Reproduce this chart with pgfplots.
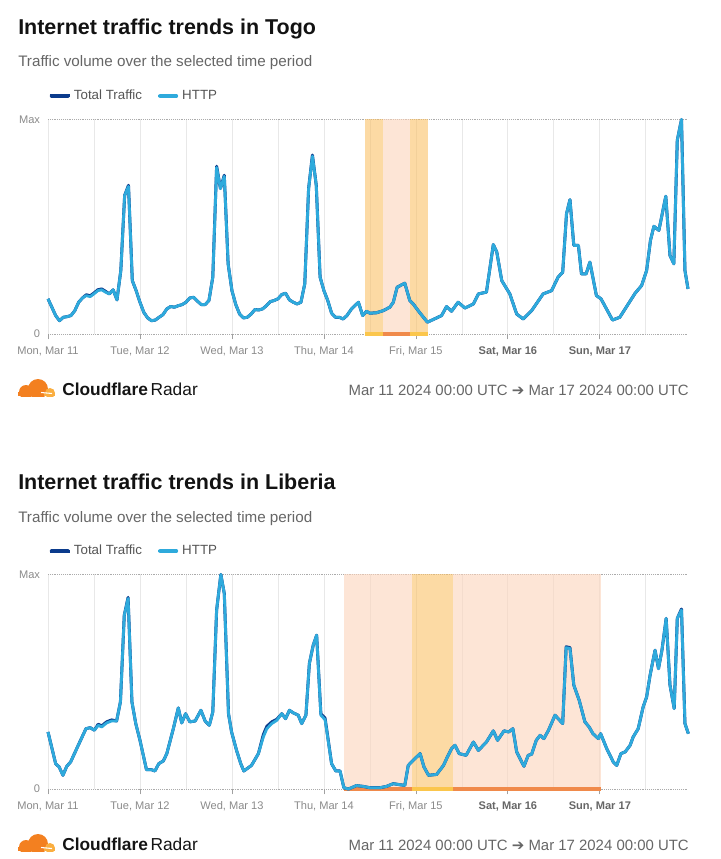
\documentclass[border=0pt]{standalone}
\usepackage{fontspec}
\setmainfont{Liberation Sans}
\newfontfamily\dejavu{DejaVu Sans}
\usepackage{pgfplots}
\usepackage{pgfplotstable}
\pgfplotsset{compat=1.18}

\definecolor{totalc}{HTML}{0B3B8C}
\definecolor{httpc}{HTML}{2EAADC}
\definecolor{gridc}{HTML}{E8E8E8}
\definecolor{dotc}{HTML}{ABABAB}
\definecolor{tickc}{HTML}{A0A0A0}
\definecolor{labelc}{HTML}{8A8A8A}
\definecolor{boldc}{HTML}{666666}
\definecolor{subc}{HTML}{666666}
\definecolor{legc}{HTML}{555555}
% band fills are drawn at 60% opacity so the grid shows through
\definecolor{bandY}{HTML}{FAC167}
\definecolor{bandP}{HTML}{FCD4BB}
\definecolor{stripY}{HTML}{FBC64C}
\definecolor{stripO}{HTML}{F08A4B}
\definecolor{cfo}{HTML}{F38020}
\definecolor{cfl}{HTML}{FAAE40}

% Togo: hour since Mon Mar 11 00:00, total, http (0 = min, 100 = max)
\pgfplotstableread{
h t v
0 16.4 16.4
1 12.5 12.5
2 8.6 8.6
3 6.2 6.2
4 7.8 7.8
5 8.1 8.1
6 8.6 8.6
7 10.9 10.9
8 14.8 14.8
9 16.8 16.8
10 18.3 17.9
11 17.8 17.4
12 19.1 18.7
13 20.6 20.2
14 21.0 20.6
15 19.9 19.5
16 18.7 18.7
17 20.6 20.6
18 15.9 15.9
19 29.6 29.6
20 64.6 64.6
21 69.3 68.8
22 24.9 24.9
23 20.2 20.2
24 14.8 14.8
25 10.1 10.1
26 7.5 7.5
27 6.2 6.2
28 6.5 6.5
29 7.8 7.8
30 9.0 9.0
31 11.7 11.7
32 12.8 12.8
33 12.5 12.5
34 13.2 13.2
35 13.7 13.7
36 14.8 14.8
37 16.8 16.8
38 17.1 17.1
39 15.3 15.3
40 13.7 13.7
41 13.7 13.7
42 15.6 15.6
43 26.5 26.5
44 78.2 77.6
45 67.8 67.8
46 74.0 73.5
47 32.7 32.7
48 20.2 20.2
49 13.7 13.7
50 9.3 9.3
51 7.5 7.5
52 7.8 7.8
53 9.3 9.3
54 11.4 11.4
55 11.2 11.2
56 11.7 11.7
57 13.2 13.2
58 15.1 15.1
59 15.6 15.6
60 16.4 16.4
61 18.4 18.4
62 19.0 19.0
63 15.9 15.9
64 14.8 14.8
65 14.0 14.0
66 14.8 14.8
67 23.4 23.4
68 67.8 67.8
69 83.4 82.9
70 69.3 69.3
71 26.5 26.5
72 20.2 20.2
73 15.6 15.6
74 9.7 9.7
75 7.8 7.8
76 7.8 7.8
77 7.0 7.0
78 8.6 8.6
79.2 11.7 11.7
81.0 14.8 14.8
82.1 8.6 8.6
83.1 10.6 10.6
84.0 9.7 9.7
85.7 9.9 9.9
87.5 10.9 10.9
89.2 12.5 12.5
90.1 14.8 14.8
91.1 21.8 21.8
93.1 23.7 23.7
94.4 15.6 15.6
95.3 14.0 14.0
97.1 9.7 9.7
99.0 5.5 5.5
101.4 7.5 7.5
102.7 8.6 8.6
104.0 12.8 12.8
105.3 10.6 10.6
107.0 14.8 14.8
108.8 12.1 12.1
111.0 14.0 14.0
112.3 18.7 18.7
114.4 19.5 19.5
116.2 41.7 41.7
117.1 38.2 38.2
118.4 24.9 24.9
120.5 18.7 18.7
122.3 9.3 9.3
124.0 7.0 7.0
126.2 10.9 10.9
129.2 18.7 18.7
131.4 20.2 20.2
133.1 26.5 26.5
134.3 28.8 28.8
135.3 56.1 56.1
136.2 62.6 62.6
137.2 41.3 41.3
138.4 41.3 41.3
139.2 28.0 28.0
140.4 28.0 28.0
141.4 33.5 33.5
143.1 17.9 17.9
144.3 16.4 16.4
147.3 6.5 6.5
149.2 7.8 7.8
153.2 19.0 19.0
154.9 22.6 22.6
156.2 29.6 29.6
157.2 43.6 43.6
158.1 50.2 50.2
159.4 48.3 48.3
161.2 64.2 64.2
162.3 36.6 36.6
163.3 32.7 32.7
164.2 90.3 90.3
165.3 100 100
166.2 29.6 29.6
167.0 21.0 21.0
}\togo

% Liberia
\pgfplotstableread{
h t v
0 26.6 26.6
2 11.8 11.8
2.9 10.3 10.3
3.9 6.4 6.4
4.9 10.6 10.6
5.9 12.6 12.6
7.9 20.4 20.4
9.9 28.1 28.1
11 28.6 28.6
12.1 27.4 27.4
13.1 30.2 29.7
14 29.4 28.9
15.3 31.3 30.8
16.6 32.2 31.7
17.9 31.7 31.7
18.9 40.6 40.6
19.9 81.0 81.0
20.9 89.3 88.8
21.9 40.6 40.6
22.9 30.5 30.5
24 22.7 22.7
25.7 9.0 9.0
27 9.0 9.0
27.9 8.4 8.4
28.9 11.8 11.8
30.1 13.1 13.1
31 16.5 16.5
32.7 28.1 28.1
34 37.8 37.8
34.9 30.8 30.8
35.9 35.1 35.1
37 31.3 31.3
38.4 31.7 31.7
39.9 36.7 36.7
41 31.7 31.7
42.1 29.7 29.7
43 35.9 35.9
44 83.4 83.4
45.1 100 100
46 91.1 91.1
47.1 35.1 35.1
47.9 26.6 26.6
49.2 18.0 18.0
50.3 11.8 11.8
51.1 8.4 8.4
53.1 11.0 11.0
54.9 16.5 16.5
56.2 25.4 24.3
57.1 29.2 28.1
58.4 31.3 30.5
59.7 32.5 32.0
61 35.1 35.1
62 32.8 32.8
63 36.7 36.7
64 35.5 35.5
65.3 34.4 34.4
66.2 30.5 30.5
67.3 34.4 34.4
68.2 58.5 58.5
69.2 67.0 67.0
70.1 71.7 71.7
71.2 35.1 34.4
72.3 33.0 32.3
74 11.8 11.8
75.1 8.4 8.4
76.2 8.4 8.4
77.2 0.6 0.6
78.4 0 0
80.5 1.6 1.6
82.3 1.2 1.2
84.0 0.6 0.6
86.6 0.6 0.6
88.3 1.2 1.2
90.1 2.5 2.5
91.8 2.0 2.0
93.1 1.7 1.7
94.0 11.0 11.0
95.3 13.4 13.4
97.1 16.5 16.5
98.1 10.3 10.3
99.3 6.4 6.4
101.4 6.8 6.8
103.2 11.0 11.0
104.2 14.9 14.9
105.3 18.8 18.8
106.2 20.4 20.4
107.3 16.5 16.5
109.1 15.7 15.7
111.0 21.9 21.9
112.3 18.0 18.0
114.4 21.9 21.9
116.2 27.1 27.1
117.3 22.7 22.7
119.0 27.1 27.1
120.2 26.6 26.6
121.3 28.1 28.1
122.3 17.3 17.3
123.6 12.6 12.6
124.2 10.6 10.6
125.3 15.7 15.7
126.2 16.2 16.2
127.4 22.7 22.7
128.4 25.0 25.0
129.4 23.5 23.5
130.6 27.4 27.4
132.3 34.4 34.4
134.3 30.5 30.5
135.2 66.3 65.9
136.2 65.9 65.5
137.2 48.4 48.4
138.6 41.4 41.4
140.1 31.3 31.3
141.2 28.9 28.9
142.2 25.8 25.8
143.6 23.5 23.5
144.2 25.8 25.8
145.8 18.8 18.8
147.5 12.6 12.6
148.4 11.0 11.0
149.5 16.5 16.5
150.6 17.3 17.3
151.9 20.4 20.4
152.7 24.3 24.3
154.0 28.1 28.1
155.3 38.3 38.3
156.2 42.9 42.9
157.1 53.0 53.0
158.4 64.7 64.7
159.3 56.1 56.1
160.2 64.7 64.7
161.3 79.5 79.5
162.3 48.4 48.4
163.4 37.5 37.5
164.2 79.5 79.5
165.3 83.9 83.4
166.2 30.5 30.5
167.1 25.8 25.8
}\liberia

\pgfplotsset{
  radar/.style={
    scale only axis, width=480pt, height=160.9pt,
    anchor=south west,
    xmin=0, xmax=167, ymin=0, ymax=100,
    axis line style={draw=none},
    xtick={0,24,...,144},
    xticklabels={{Mon, Mar 11},{Tue, Mar 12},{Wed, Mar 13},{Thu, Mar 14},{Fri, Mar 15},{\textbf{\color{boldc}Sat, Mar 16}},{\textbf{\color{boldc}Sun, Mar 17}}},
    minor xtick={12,36,...,156},
    ytick={0,100}, yticklabels={0,Max},
    xmajorgrids, xminorgrids, ymajorgrids,
    x grid style={gridc, line width=0.6pt},
    y grid style={dotc, densely dotted, line width=0.6pt},
    tick align=outside, xtick pos=left, ytick pos=left,
    major tick length=4pt, minor tick length=0pt,
    xtick style={tickc, line width=0.6pt},
    ytick style={draw=none},
    tick label style={font=\fontsize{8.3}{10}\selectfont, text=labelc},
    xticklabel style={anchor=base, yshift=-11pt},
    yticklabel style={xshift=1.5pt},
    clip=false,
    legend columns=2,
    legend style={at={(0,1)}, anchor=west, yshift=17.6pt, xshift=0pt,
      draw=none, fill=none, inner sep=0pt,
      font=\fontsize{10}{12}\selectfont, text=legc,
      /tikz/every even column/.append style={column sep=9pt}},
    legend image code/.code={%
      \draw[##1, line width=3pt, line cap=round] (1.5pt,0pt) -- (13.5pt,0pt);
      \path (0pt,0pt) -- (15pt,0pt);},
    band/.style={fill=##1, fill opacity=0.6, draw=none, forget plot},
    strip/.style={##1, line width=3pt, forget plot},
  },
}

\newcommand\footer[1]{%
  \begin{scope}
    \clip (10,#1-20) rectangle (60,#1+1);
    \fill[cfo] (38,#1-6) circle[radius=10];
    \fill[cfo] (26,#1-3) circle[radius=7];
    \fill[cfo] (18,#1-3) rectangle (49,#1+1);
  \end{scope}
  \begin{scope}
    \clip (40,#1-12) rectangle (58,#1+1);
    \fill[cfl] (50,#1-2) circle[radius=5];
    \fill[cfl] (44,#1-2) rectangle (55,#1+1);
  \end{scope}
  \draw[white, line width=0.8pt] (41,#1-2.5) -- (52,#1-1.5);
  \node[anchor=base west, inner sep=0pt, text=black!92] at (62,#1)
    {\fontsize{13}{15}\selectfont\textbf{Cloudflare}\hspace{0.15em}Radar};
  \node[anchor=base east, inner sep=0pt, text=subc] at (689,#1)
    {\fontsize{11.2}{13}\selectfont Mar 11 2024 00:00 UTC {\dejavu\bfseries ➔} Mar 17 2024 00:00 UTC};
}

\begin{document}
\begin{tikzpicture}
\path[use as bounding box] (0,0) rectangle (540pt,-644.25pt);

\begin{scope}[x=0.75pt, y=-0.75pt]
  \node[anchor=base west, inner sep=0pt, text=black!93] at (18,35)
    {\fontsize{16.1}{19}\selectfont\bfseries Internet traffic trends in Togo};
  \node[anchor=base west, inner sep=0pt, text=subc] at (18,67)
    {\fontsize{11.4}{13}\selectfont Traffic volume over the selected time period};
  \footer{395}
  \node[anchor=base west, inner sep=0pt, text=black!93] at (18,489.5)
    {\fontsize{16.1}{19}\selectfont\bfseries Internet traffic trends in Liberia};
  \node[anchor=base west, inner sep=0pt, text=subc] at (18,522)
    {\fontsize{11.4}{13}\selectfont Traffic volume over the selected time period};
  \footer{850}
\end{scope}

\begin{axis}[radar, at={(36pt,-250.5pt)}]
  \addplot[band=bandY] coordinates {(82.7,100) (87.4,100)} \closedcycle;
  \addplot[band=bandP] coordinates {(87.4,100) (94.4,100)} \closedcycle;
  \addplot[band=bandY] coordinates {(94.4,100) (99.1,100)} \closedcycle;
  \addplot[strip=stripY] coordinates {(82.7,0) (87.4,0)};
  \addplot[strip=stripO] coordinates {(87.4,0) (94.4,0)};
  \addplot[strip=stripY] coordinates {(94.4,0) (99.1,0)};
  \addplot[totalc, line width=2.25pt, line join=round] table[x=h, y=t] {\togo};
  \addplot[httpc, line width=2.1pt, line join=round] table[x=h, y=v] {\togo};
  \legend{Total Traffic, HTTP}
\end{axis}

\begin{axis}[radar, at={(36pt,-591.75pt)}]
  \addplot[band=bandP] coordinates {(77.2,100) (95.0,100)} \closedcycle;
  \addplot[band=bandY] coordinates {(95.0,100) (105.7,100)} \closedcycle;
  \addplot[band=bandP] coordinates {(105.7,100) (144.2,100)} \closedcycle;
  \addplot[strip=stripO] coordinates {(77.2,0) (95.0,0)};
  \addplot[strip=stripY] coordinates {(95.0,0) (105.7,0)};
  \addplot[strip=stripO] coordinates {(105.7,0) (144.2,0)};
  \addplot[totalc, line width=2.25pt, line join=round] table[x=h, y=t] {\liberia};
  \addplot[httpc, line width=2.1pt, line join=round] table[x=h, y=v] {\liberia};
  \legend{Total Traffic, HTTP}
\end{axis}
\end{tikzpicture}
\end{document}
